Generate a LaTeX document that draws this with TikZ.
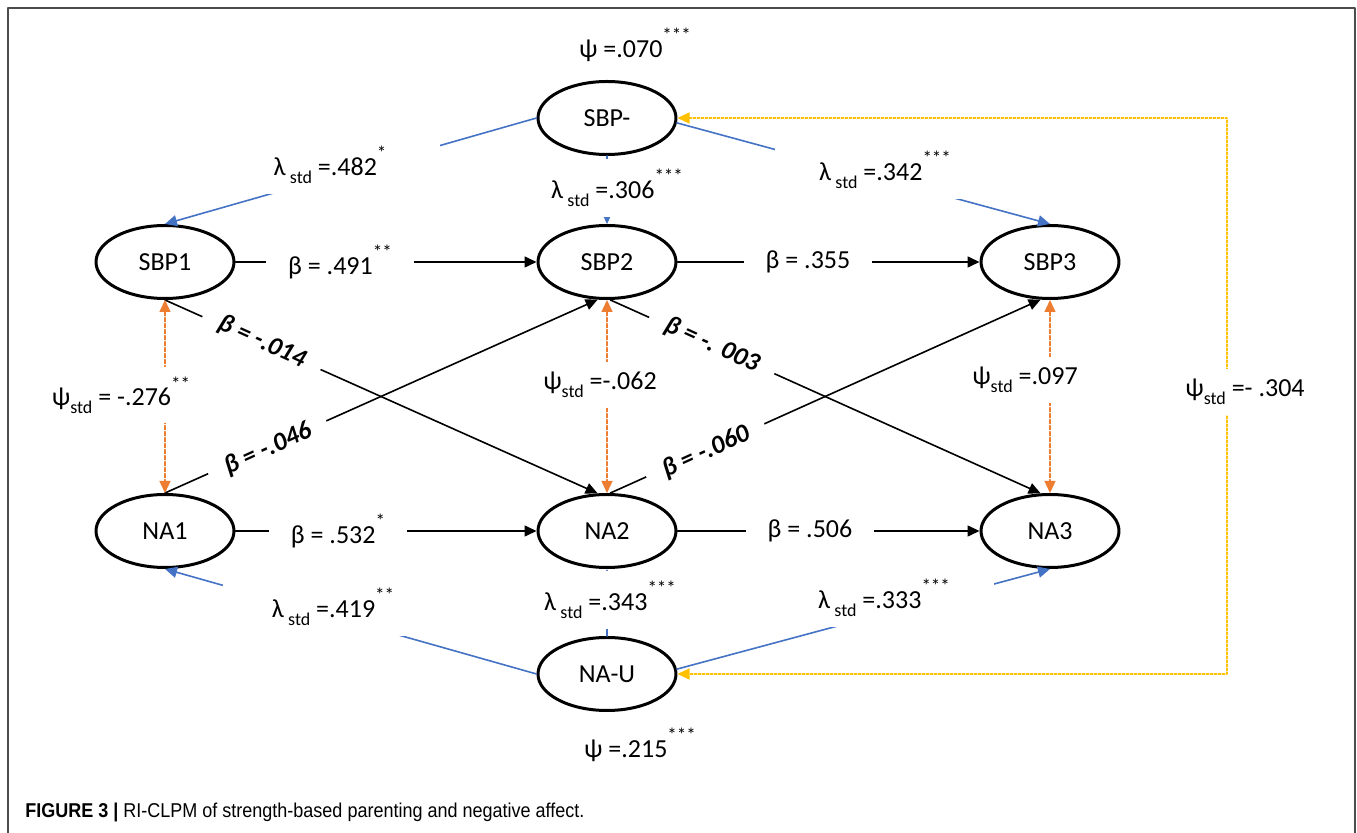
\documentclass[tikz,border=0pt]{standalone}
\usepackage{fontspec}
\setmainfont{Carlito}
\newfontfamily\capfont[FakeStretch=0.9]{Liberation Sans}
\usetikzlibrary{shapes.geometric,arrows.meta}

\definecolor{loadblue}{HTML}{4472C4}
\definecolor{covorange}{HTML}{ED7D31}
\definecolor{riyellow}{HTML}{FFC000}

\newcommand{\stars}[1]{\raisebox{1.25ex}{\fontsize{9.5}{9.5}\selectfont#1}}
\newcommand{\lstd}{λ\,\raisebox{-0.7ex}{\fontsize{9}{9}\selectfont std}}
\newcommand{\pstd}{ψ\raisebox{-0.6ex}{\fontsize{9}{9}\selectfont std}}

\begin{document}
\begin{tikzpicture}[x=0.5pt,y=-0.5pt,line cap=round,line join=round,
  latent/.style={ellipse,draw,line width=1.5pt,minimum width=69pt,minimum height=36.5pt,
    font=\fontsize{13}{15}\selectfont},
  lbl/.style={fill=white,inner xsep=11pt,inner ysep=5pt,font=\fontsize{13}{15}\selectfont},
  blbl/.style={lbl,inner xsep=9pt,inner ysep=3pt,font=\fontsize{13}{15}\selectfont\bfseries\itshape},
  wide/.style={minimum width=110pt},
  tip/.style={-{Triangle[length=6pt,width=5.5pt]}},
  reg/.style={tip,line width=0.8pt},
  load/.style={tip,draw=loadblue,line width=0.8pt},
  cov/.style={{Triangle[length=6pt,width=5.5pt]}-{Triangle[length=6pt,width=5.5pt]},
    draw=covorange,line width=0.7pt,dash pattern=on 2pt off 1pt},
  ricov/.style={{Triangle[length=6pt,width=5.5pt]}-{Triangle[length=6pt,width=5.5pt]},
    draw=riyellow,line width=0.6pt,dash pattern=on 1.2pt off 0.8pt}]
  \useasboundingbox (0,0) rectangle (1357,833);

  % frame
  \draw[black!70,line width=0.8pt] (8,833) -- (8,8) -- (1355,8) -- (1355,833);

  % latent variables
  \node[latent] (SBPm) at (607,118) {SBP-};
  \node[latent] (SBP1) at (165,262) {SBP1};
  \node[latent] (SBP2) at (607,262) {SBP2};
  \node[latent] (SBP3) at (1050,262) {SBP3};
  \node[latent] (NA1) at (165,531) {NA1};
  \node[latent] (NA2) at (607,531) {NA2};
  \node[latent] (NA3) at (1050,531) {NA3};
  \node[latent] (NAU) at (607,674) {NA-U};

  \coordinate (riNE) at (1227,118);
  \coordinate (riSE) at (1227,674);

  % autoregressive and cross-lagged paths
  \draw[reg] (SBP1) -- (SBP2);
  \draw[reg] (SBP2) -- (SBP3);
  \draw[reg] (NA1) -- (NA2);
  \draw[reg] (NA2) -- (NA3);
  \draw[reg] (SBP1.south) -- (NA2.104);
  \draw[reg] (NA1.north) -- (SBP2.256);
  \draw[reg] (SBP2.275) -- (NA3.104);
  \draw[reg] (NA2.85) -- (SBP3.256);

  % within covariances
  \draw[cov] (SBP1.south) -- (NA1.north);
  \draw[cov] (SBP2.south) -- (NA2.north);
  \draw[cov] (SBP3.south) -- (NA3.north);

  % random intercept loadings
  \draw[load] (SBPm.west) -- (SBP1.north);
  \draw[load] (SBPm.south) -- (SBP2.north);
  \draw[load] (SBPm.-4) -- (SBP3.north);
  \draw[load] (NAU.west) -- (NA1.south);
  \draw[load] (NAU.north) -- (NA2.south);
  \draw[load] (NAU.4) -- (NA3.south);
  \draw[ricov] (SBPm.east) -- (riNE) -- (riSE) -- (NAU.east);

  % labels
  \node[lbl] (b1) at (340,262) {β = .491\stars{**}};
  \node[lbl] (b2) at (808,262) {β = .355};
  \node[lbl] (b3) at (338,531) {β = .532\stars{*}};
  \node[lbl] (b4) at (810,531) {β = .506};
  \node[blbl,rotate=-24.4] (c1) at (262,342) {β = -.014};
  \node[blbl,rotate=24.4] (c2) at (268,449) {β = -.046};
  \node[blbl,rotate=-24.4] (c3) at (712,345) {β = -. 003};
  \node[blbl,rotate=24.4] (c4) at (706,452) {β = -.060};

  \node[lbl] (p1) at (121,395) {\pstd\ = -.276\stars{**}};
  \node[lbl] (p2) at (600,385) {\pstd\ =-.062};
  \node[lbl] (p3) at (1025,380) {\pstd\ =.097};
  \node[lbl] (p4) at (1245,392) {\pstd\ =- .304};

  \node[lbl,wide] (l1) at (330,165) {\lstd\ =.482\stars{*}};
  \node[lbl] (l2) at (617,188) {\lstd\ =.306\stars{***}};
  \node[lbl,wide] (l3) at (885,170) {\lstd\ =.342\stars{***}};
  \node[lbl,wide] (l4) at (333,607) {\lstd\ =.419\stars{**}};
  \node[lbl] (l5) at (610,600) {\lstd\ =.343\stars{***}};
  \node[lbl,wide] (l6) at (884,598) {\lstd\ =.333\stars{***}};

  \node[lbl] (v1) at (635,45) {ψ =.070\stars{***}};
  \node[lbl] (v2) at (640,745) {ψ =.215\stars{***}};

  % caption
  \node[anchor=west,inner sep=0pt,font=\capfont\fontsize{10}{12}\selectfont] (cap) at (25,812)
    {\textbf{FIGURE 3 |} RI-CLPM of strength-based parenting and negative affect.};
\end{tikzpicture}
\end{document}
